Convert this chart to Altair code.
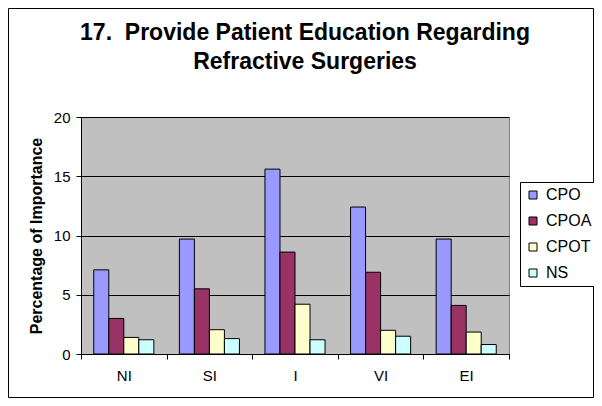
import altair as alt
import pandas as pd

categories = ["NI", "SI", "I", "VI", "EI"]
series = ["CPO", "CPOA", "CPOT", "NS"]
cpo = [7.1, 9.7, 15.6, 12.4, 9.7]
cpoa = [3.0, 5.5, 8.6, 6.9, 4.1]
cpot = [1.4, 2.05, 4.2, 2.0, 1.85]
ns = [1.2, 1.3, 1.2, 1.5, 0.8]
colors = ["#9999FF", "#993366", "#FFFFCC", "#CCFFFF"]
y_ticks = [0, 5, 10, 15, 20]

rows = []
for s, vals in zip(series, [cpo, cpoa, cpot, ns]):
    for c, v in zip(categories, vals):
        rows.append({"cat": c, "series": s, "value": v})
df = pd.DataFrame(rows)

W, H = 428, 237
PL, PT = 73, 109
PR = 586 - PL - W
PB = 390 - PT - H
FONT = "Liberation Sans"

bars = alt.Chart(df).mark_bar(stroke="black", strokeWidth=1).encode(
    x=alt.X("cat:N", sort=categories,
            scale=alt.Scale(paddingInner=0, paddingOuter=0),
            axis=alt.Axis(title=None, labelAngle=0, tickBand="extent",
                          domainColor="black", tickColor="black", tickSize=5,
                          labelFontSize=15, labelPadding=9, labelColor="black",
                          labelFont=FONT)),
    xOffset=alt.XOffset("series:N", sort=series,
                        scale=alt.Scale(paddingInner=0, paddingOuter=0.85)),
    y=alt.Y("value:Q", scale=alt.Scale(domain=[0, 20]),
            axis=alt.Axis(values=y_ticks, title="Percentage of Importance",
                          titleFont=FONT, titleFontSize=16, titleFontWeight="bold",
                          titleColor="black", titlePadding=9,
                          labelFont=FONT, labelFontSize=15, labelColor="black",
                          labelPadding=6, tickSize=5, tickColor="black",
                          domainColor="black", grid=True, gridColor="black",
                          gridWidth=1)),
    color=alt.Color("series:N", sort=series,
                    scale=alt.Scale(domain=series, range=colors),
                    legend=alt.Legend(title=None, orient="none", legendX=439, legendY=65,
                                      strokeColor="black", fillColor="white",
                                      padding=5, symbolType="square", symbolSize=64,
                                      symbolStrokeColor="black", symbolStrokeWidth=1,
                                      labelFont=FONT, labelFontSize=16,
                                      labelColor="black", rowPadding=10,
                                      labelOffset=5)),
)

frame = alt.Chart(pd.DataFrame({"a": [0]})).mark_rect(
    fill=None, stroke="black", strokeWidth=1
).encode(
    x=alt.value(-PL + 0.5), x2=alt.value(W + PR - 0.5),
    y=alt.value(-PT + 0.5), y2=alt.value(H + PB - 0.5),
)

chart = alt.layer(bars, frame).properties(
    width=W, height=H,
    padding={"left": PL, "top": PT, "right": PR, "bottom": PB},
    autosize=alt.AutoSizeParams(type="none"),
    background="white",
    title=alt.TitleParams(
        text=["17.\u00a0 Provide Patient Education Regarding", "Refractive Surgeries"],
        font=FONT, fontSize=23, fontWeight="bold", color="black",
        anchor="middle", dx=10, dy=66, lineHeight=29, offset=0),
).configure_view(fill="#C0C0C0", stroke="#808080")

chart.save("out.html", embed_options={"renderer": "svg", "actions": False})
